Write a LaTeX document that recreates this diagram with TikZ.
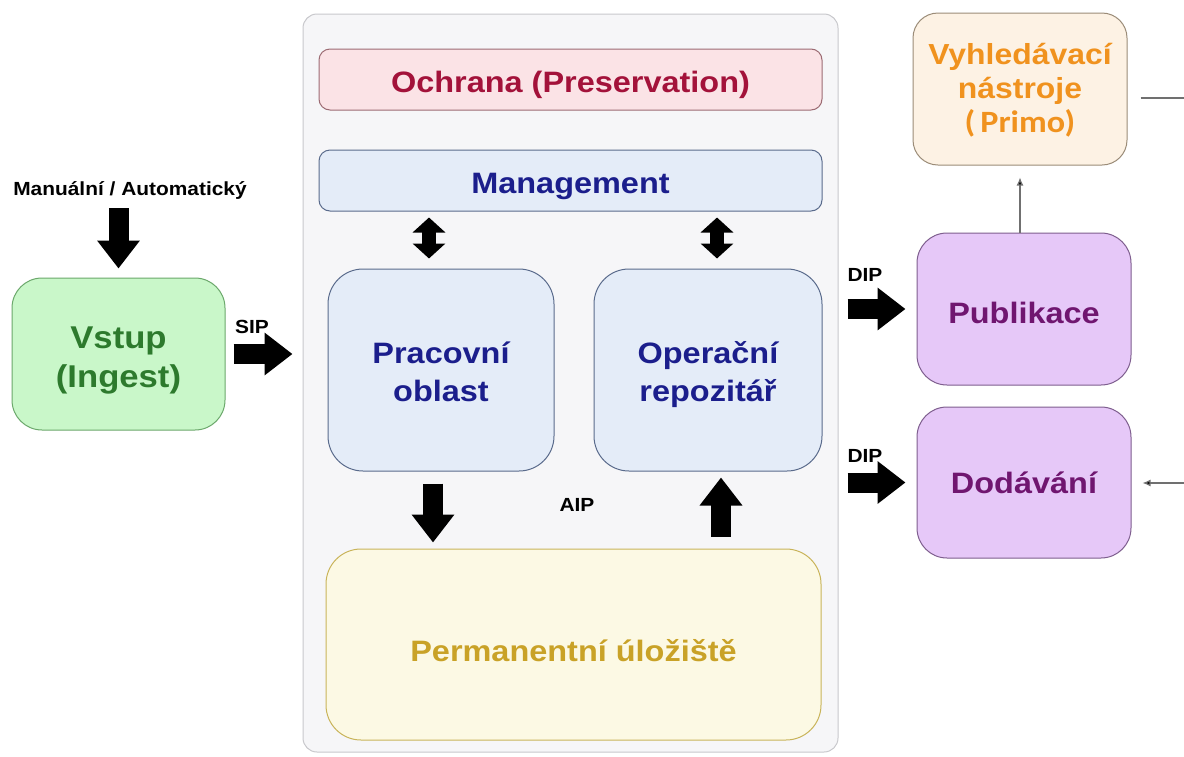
\documentclass[tikz,border=0pt]{standalone}
\usepackage{fontspec}
\setmainfont{Liberation Sans}[FakeStretch=1.1]
\newfontfamily\primofont{Carlito}[FakeStretch=1.1]
\usetikzlibrary{arrows.meta,calc}
\definecolor{contfill}{HTML}{F6F6F8}
\definecolor{contdraw}{HTML}{C8C8CC}
\definecolor{ochfill}{HTML}{FBE3E6}
\definecolor{ochdraw}{HTML}{9C6B73}
\definecolor{ochtext}{HTML}{A3123A}
\definecolor{mgfill}{HTML}{E4ECF8}
\definecolor{mgdraw}{HTML}{5A6B8C}
\definecolor{mgtext}{HTML}{1B1E8C}
\definecolor{pmfill}{HTML}{FCF9E4}
\definecolor{pmdraw}{HTML}{C9B45A}
\definecolor{pmtext}{HTML}{C9A227}
\definecolor{vsfill}{HTML}{C9F7C9}
\definecolor{vsdraw}{HTML}{6BA86B}
\definecolor{vstext}{HTML}{2D7A2D}
\definecolor{vyfill}{HTML}{FDF2E4}
\definecolor{vydraw}{HTML}{9B8C78}
\definecolor{vytext}{HTML}{F0921E}
\definecolor{pbfill}{HTML}{E6C8F8}
\definecolor{pbdraw}{HTML}{7E5E8E}
\definecolor{pbtext}{HTML}{701670}
\definecolor{thinline}{HTML}{707070}
\newcommand{\txtdown}[2]{\raisebox{-#1}[\height][\depth]{#2}}
\newcommand{\twolines}[2]{\begin{tabular}{@{}c@{}}#1\\#2\end{tabular}}
\begin{document}
\begin{tikzpicture}[x=1pt,y=-1pt,
  box/.style={draw, line width=1pt, inner sep=0pt, align=center,
    font=\bfseries\fontsize{29.5}{38}\selectfont},
  lab/.style={inner sep=0pt, font=\bfseries\fontsize{19}{20}\selectfont},
  fat/.style={draw=black, line width=20pt, -{Triangle[width=41pt,length=28pt]}},
  dbl/.style={draw=black, line width=14pt,
    {Triangle[width=32pt,length=15pt]}-{Triangle[width=32pt,length=15pt]}},
  thinarrow/.style={draw=thinline, line width=1.2pt, -{Latex[length=8pt,width=7pt,fill=black]}},
  thinline/.style={draw=thinline, line width=1.2pt}]
\fill[white] (0,0) rectangle (1184,756);
\useasboundingbox (0,0) rectangle (1184,756);

% container
\node[draw=contdraw, fill=contfill, line width=1pt, rounded corners=14pt,
  minimum width=535pt, minimum height=738pt] (cont) at (570.5,383) {};

\node[box, draw=ochdraw, fill=ochfill, text=ochtext, rounded corners=11pt,
  minimum width=503pt, minimum height=61pt] (och) at (570.5,79.5)
  {\txtdown{5pt}{Ochrana (Preservation)}};
\node[box, draw=mgdraw, fill=mgfill, text=mgtext, rounded corners=11pt,
  minimum width=503pt, minimum height=61pt] (mgmt) at (570.5,180.5)
  {\txtdown{6pt}{Management}};
\node[box, draw=mgdraw, fill=mgfill, text=mgtext, rounded corners=35pt,
  minimum width=226pt, minimum height=202pt] (prac) at (441,370)
  {\txtdown{4.5pt}{\twolines{Pracovní}{oblast}}};
\node[box, draw=mgdraw, fill=mgfill, text=mgtext, rounded corners=35pt,
  minimum width=228pt, minimum height=202pt] (oper) at (708,370)
  {\txtdown{4.5pt}{\twolines{Operační}{repozitář}}};
\node[box, draw=pmdraw, fill=pmfill, text=pmtext, rounded corners=35pt,
  minimum width=495pt, minimum height=191pt] (perm) at (573.5,644.5)
  {\txtdown{6pt}{Permanentní úložiště}};

% left
\node[box, draw=vsdraw, fill=vsfill, text=vstext, rounded corners=30pt,
  minimum width=213pt, minimum height=152pt,
  font=\bfseries\fontsize{31.5}{39}\selectfont] (vstup) at (118.5,354)
  {\txtdown{6pt}{\twolines{Vstup}{(Ingest)}}};
\node[lab] (manual) at (130,190) {Manuální / Automatický};
\node[lab] (sip) at (252,327) {SIP};

% right
\node[box, draw=vydraw, fill=vyfill, text=vytext, rounded corners=25pt,
  minimum width=214pt, minimum height=152pt,
  font=\bfseries\fontsize{29}{34}\selectfont] (vyhl) at (1020,89)
  {\txtdown{3pt}{\begin{tabular}{@{}c@{}}Vyhledávací\\nástroje\\{\primofont\fontsize{31}{34}\selectfont(\,Primo)}\end{tabular}}};
\node[box, draw=pbdraw, fill=pbfill, text=pbtext, rounded corners=30pt,
  minimum width=214pt, minimum height=152pt] (pub) at (1024,309)
  {\txtdown{4pt}{Publikace}};
\node[box, draw=pbdraw, fill=pbfill, text=pbtext, rounded corners=30pt,
  minimum width=214pt, minimum height=151pt] (dod) at (1024,482.5) {Dodávání};
\node[lab] (dip1) at (865,275) {DIP};
\node[lab] (dip2) at (865,456) {DIP};
\node[lab] (aip) at (577,505) {AIP};

\coordinate (r1) at (1184,98);
\coordinate (r2) at (1184,483);

% connectors
\draw[fat, shorten <=9pt, shorten >=9pt] (manual.south -| vstup.north) -- (vstup.north);
\draw[fat, shorten <=8pt, shorten >=10pt] (vstup.east) -- (cont.west |- vstup.east);
\draw[dbl, shorten <=6pt, shorten >=10pt] ($(prac.north |- mgmt.south)+(-12,0)$) -- ($(prac.north)+(-12,0)$);
\draw[dbl, shorten <=6pt, shorten >=10pt] ($(oper.north |- mgmt.south)+(9,0)$) -- ($(oper.north)+(9,0)$);
\draw[fat, shorten <=12pt, shorten >=6pt] ($(prac.south)+(-8,0)$) -- ($(prac.south |- perm.north)+(-8,0)$);
\draw[fat, shorten <=12pt, shorten >=6pt] ($(oper.south |- perm.north)+(13,0)$) -- ($(oper.south)+(13,0)$);
\draw[fat, shorten <=9pt, shorten >=11pt] (cont.east |- pub.west) -- (pub.west);
\draw[fat, shorten <=9pt, shorten >=11pt] (cont.east |- dod.west) -- (dod.west);
\draw[thinarrow, shorten >=12pt] (vyhl.south |- pub.north) -- (vyhl.south);
\draw[thinline, shorten <=13pt] (vyhl.east |- r1) -- (r1);
\draw[thinarrow, shorten >=11pt] (r2) -- (dod.east |- r2);
\end{tikzpicture}
\end{document}
